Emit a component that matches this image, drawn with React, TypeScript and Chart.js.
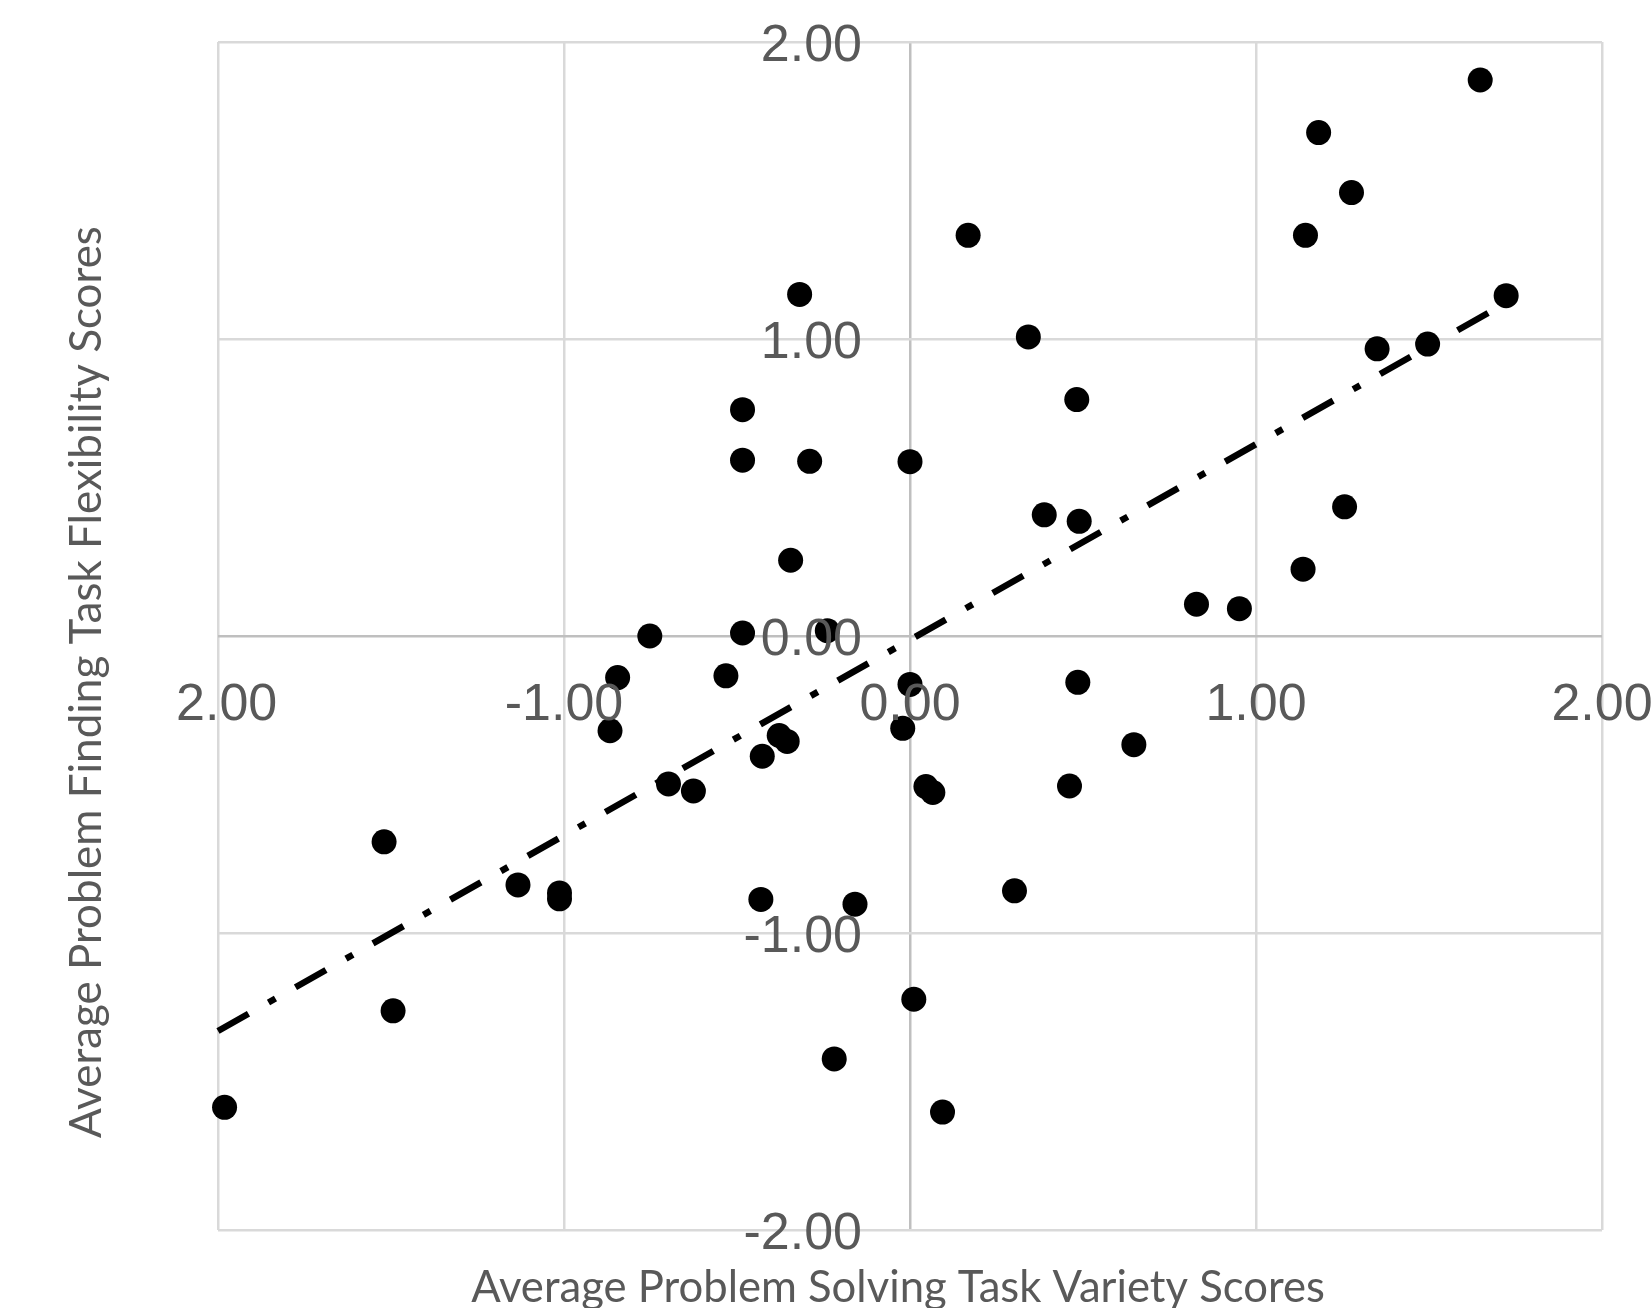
import React, { useEffect, useRef } from "react";
import { Chart, registerables } from "chart.js";

Chart.register(...registerables);

// Scatter data
const xValues = [
  1.648, 1.181, 1.276, 1.143, 0.168, -0.319, 1.723, 0.342, 1.496, 1.35,
  0.482, -0.484, -0.484, -0.29, 0.0, 1.256, 0.388, 0.489, -0.345, 1.136,
  0.828, 0.952, -0.752, -0.484, -0.239, -0.845, -0.532, 0.0, 0.485, -0.867,
  -0.021, -0.378, -0.355, -0.427, 0.647, -0.698, -0.626, 0.046, 0.066, 0.461,
  -1.52, -1.133, -1.013, -1.013, -0.431, -0.159, 0.302, 0.011, -1.494, -0.219,
  -1.981, 0.094,
];
const yValues = [
  1.872, 1.695, 1.493, 1.349, 1.349, 1.15, 1.146, 1.007, 0.983, 0.967,
  0.796, 0.762, 0.592, 0.588, 0.587, 0.435, 0.408, 0.386, 0.255, 0.225,
  0.107, 0.092, 0.0, 0.01, 0.018, -0.14, -0.134, -0.163, -0.156, -0.319,
  -0.311, -0.335, -0.355, -0.405, -0.366, -0.498, -0.522, -0.507, -0.527, -0.505,
  -0.693, -0.838, -0.865, -0.885, -0.887, -0.903, -0.858, -1.223, -1.262, -1.424,
  -1.587, -1.603,
];

// Linear trendline end points (as drawn in the reference)
const trendX = [-2.0, 1.72];
const trendY = [-1.33, 1.12];

const tickValues = [-2, -1, 0, 1, 2];
const xTickLabels = ["-2.00", "-1.00", "0.00", "1.00", "2.00"];
const yTickLabels = ["-2.00", "-1.00", "0.00", "1.00", "2.00"];

const xTitle = "Average Problem Solving Task Variety Scores";
const yTitle = "Average Problem Finding Task Flexibility Scores";

const TEXT_COLOR = "#595959";
const TICK_FONT = "52px 'Liberation Sans', Arial, sans-serif";
const TITLE_FAMILY = "Lato, 'Open Sans', sans-serif";

function fitFontSize(ctx: CanvasRenderingContext2D, text: string, target: number) {
  ctx.font = `40px ${TITLE_FAMILY}`;
  const w = ctx.measureText(text).width;
  return (40 * target) / w;
}

const labelPlugin = {
  id: "excelLabels",
  afterDatasetsDraw(chart: any) {
    const { ctx, chartArea, scales } = chart;
    const xs = scales.x;
    const ys = scales.y;
    const x0 = xs.getPixelForValue(0);
    const y0 = ys.getPixelForValue(0);
    ctx.save();
    ctx.fillStyle = TEXT_COLOR;
    ctx.font = TICK_FONT;

    // Y tick labels, right aligned next to the x=0 axis
    ctx.textAlign = "right";
    ctx.textBaseline = "alphabetic";
    tickValues.forEach((v, i) => {
      ctx.fillText(yTickLabels[i], x0 - 48, ys.getPixelForValue(v) + 19);
    });

    // X tick labels, below the y=0 axis
    ctx.save();
    ctx.beginPath();
    ctx.rect(chartArea.left - 43, 0, chart.width, chart.height);
    ctx.clip();
    ctx.textAlign = "center";
    tickValues.forEach((v, i) => {
      ctx.fillText(xTickLabels[i], xs.getPixelForValue(v), y0 + 84);
    });
    ctx.restore();

    // Axis titles
    const xSize = fitFontSize(ctx, xTitle, 854);
    ctx.font = `${xSize}px ${TITLE_FAMILY}`;
    ctx.textAlign = "center";
    ctx.textBaseline = "alphabetic";
    ctx.fillText(xTitle, 898, 1302);

    const ySize = fitFontSize(ctx, yTitle, 912);
    ctx.font = `${ySize}px ${TITLE_FAMILY}`;
    ctx.save();
    ctx.translate(101, 682);
    ctx.rotate(-Math.PI / 2);
    ctx.textAlign = "center";
    ctx.fillText(yTitle, 0, 0);
    ctx.restore();

    ctx.restore();
  },
};

export default function App() {
  const canvasRef = useRef<HTMLCanvasElement | null>(null);

  useEffect(() => {
    const canvas = canvasRef.current;
    if (!canvas) return;
    const points = xValues.map((x, i) => ({ x, y: yValues[i] }));
    const trend = trendX.map((x, i) => ({ x, y: trendY[i] }));

    const gridColor = (c: any) => (c.tick && c.tick.value === 0 ? "#bfbfbf" : "#d9d9d9");

    const chart = new Chart(canvas, {
      type: "scatter",
      data: {
        datasets: [
          {
            label: "Scores",
            data: points,
            backgroundColor: "#000000",
            borderColor: "#000000",
            pointRadius: 12.5,
            pointBorderWidth: 0,
            showLine: false,
            clip: false as any,
          },
          {
            label: "Trend",
            data: trend,
            showLine: true,
            borderColor: "#000000",
            borderWidth: 6.5,
            borderDash: [35, 23, 8, 23],
            borderCapStyle: "butt",
            pointRadius: 0,
            fill: false,
            clip: false as any,
          },
        ],
      },
      options: {
        responsive: false,
        animation: false,
        devicePixelRatio: 1,
        layout: { padding: { left: 218, top: 42, right: 50, bottom: 78 } },
        plugins: {
          legend: { display: false },
          tooltip: { enabled: false },
          title: { display: false },
        },
        scales: {
          x: {
            type: "linear",
            min: -2,
            max: 2,
            ticks: { display: false, stepSize: 1 },
            grid: { color: gridColor, lineWidth: 2.5, drawTicks: false },
            border: { display: false },
          },
          y: {
            type: "linear",
            min: -2,
            max: 2,
            ticks: { display: false, stepSize: 1 },
            grid: { color: gridColor, lineWidth: 2.5, drawTicks: false },
            border: { display: false },
          },
        },
      },
      plugins: [labelPlugin],
    });
    return () => chart.destroy();
  }, []);

  return (
    <div style={{ position: "fixed", left: 0, top: 0, width: 1652, height: 1308, background: "#ffffff" }}>
      <canvas ref={canvasRef} width={1652} height={1308} style={{ width: 1652, height: 1308, display: "block" }} />
    </div>
  );
}
